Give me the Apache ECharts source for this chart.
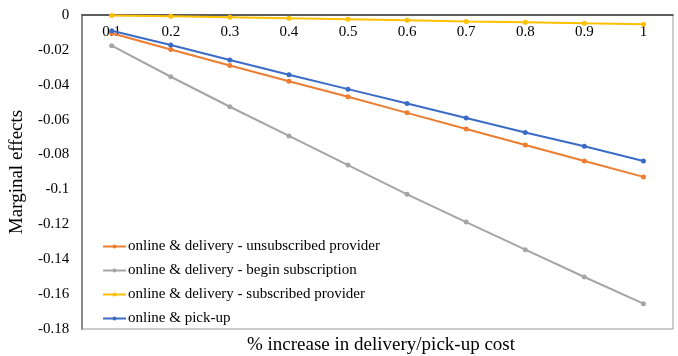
<!DOCTYPE html>
<html>
<head>
<meta charset="utf-8">
<script src="https://cdn.jsdelivr.net/npm/echarts@6/dist/echarts.min.js"></script>
<style>
  html, body { margin: 0; padding: 0; background: #fff; }
  #chart { width: 678px; height: 356px; }
</style>
</head>
<body>
<div id="chart"></div>
<script>
// Cost increase steps on the x axis
const costSteps = ['0.1', '0.2', '0.3', '0.4', '0.5', '0.6', '0.7', '0.8', '0.9', '1'];

// Marginal effects per channel
const unsubscribedProvider = [-0.0105, -0.0198, -0.0290, -0.0380, -0.0469, -0.0561, -0.0653, -0.0745, -0.0837, -0.0928];
const beginSubscription    = [-0.0176, -0.0354, -0.0526, -0.0693, -0.0860, -0.1028, -0.1187, -0.1345, -0.1502, -0.1655];
const subscribedProvider   = [-0.0003, -0.0007, -0.0013, -0.0019, -0.0024, -0.0030, -0.0037, -0.0042, -0.0048, -0.0053];
const pickUp               = [-0.0090, -0.0172, -0.0258, -0.0343, -0.0425, -0.0507, -0.0590, -0.0674, -0.0752, -0.0837];

const seriesNames = [
  'online & delivery - unsubscribed provider',
  'online & delivery - begin subscription',
  'online & delivery - subscribed provider',
  'online & pick-up'
];
const seriesData = [unsubscribedProvider, beginSubscription, subscribedProvider, pickUp];
const seriesColors = ['#ED7D31', '#A5A5A5', '#FFC000', '#3A6CC6'];

const serif = '"Liberation Serif", "Times New Roman", serif';

const chart = echarts.init(document.getElementById('chart'));

chart.setOption({
  animation: false,
  textStyle: { fontFamily: serif },
  grid: {
    left: 80, right: 5, top: 15, bottom: 27,
    show: true, borderColor: '#9a9a9a', borderWidth: 1
  },
  title: {
    text: '% increase in delivery/pick-up cost',
    left: 376, top: 331, textAlign: 'center',
    textStyle: { fontFamily: serif, fontSize: 19, fontWeight: 'normal', color: '#000' }
  },
  legend: {
    orient: 'vertical',
    left: 97, top: 234,
    itemWidth: 23, itemHeight: 5, itemGap: 9,
    textStyle: { fontFamily: serif, fontSize: 15, color: '#000', padding: [0, 0, 0, -3] },
    data: seriesNames
  },
  xAxis: {
    type: 'category',
    data: costSteps,
    boundaryGap: true,
    position: 'top',
    axisLine: { onZero: false, lineStyle: { color: '#3a3a3a', width: 1.5 } },
    axisTick: { show: false },
    axisLabel: { inside: true, fontFamily: serif, fontSize: 15, color: '#000', margin: 10 },
    splitLine: { show: false }
  },
  yAxis: {
    type: 'value',
    min: -0.18, max: 0, interval: 0.02,
    name: 'Marginal effects',
    nameLocation: 'middle', nameGap: 52,
    nameTextStyle: { fontFamily: serif, fontSize: 19, color: '#000' },
    axisLine: { show: true, lineStyle: { color: '#8c8c8c', width: 2 } },
    axisTick: { show: false },
    splitLine: { show: false },
    axisLabel: {
      fontFamily: serif, fontSize: 15, color: '#000', margin: 13,
      formatter: v => String(+v.toFixed(2))
    }
  },
  series: seriesNames.map((name, i) => ({
    name,
    type: 'line',
    data: seriesData[i],
    color: seriesColors[i],
    symbol: 'circle',
    symbolSize: 5,
    lineStyle: { width: 2 },
    z: 3
  }))
});
</script>
</body>
</html>
